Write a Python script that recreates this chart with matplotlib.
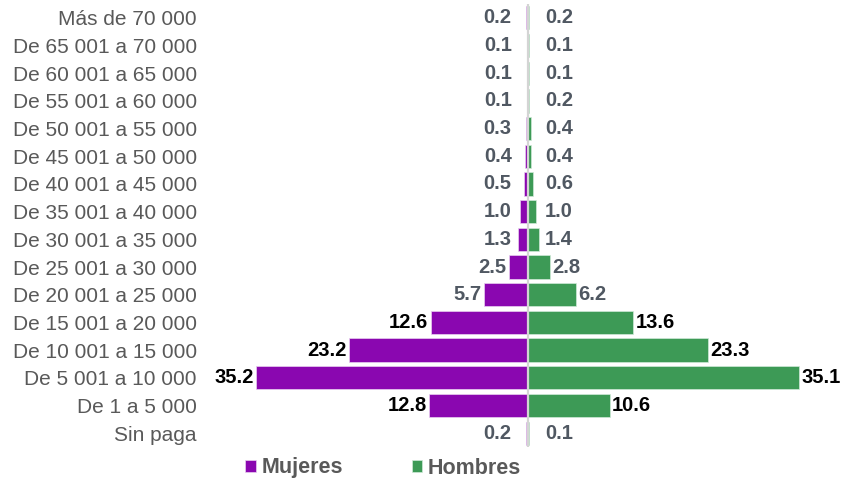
import matplotlib
matplotlib.use("Agg")
import matplotlib.pyplot as plt
import numpy as np

# Income brackets, listed top to bottom as in the chart
categories = [
    "Más de 70 000", "De 65 001 a 70 000", "De 60 001 a 65 000",
    "De 55 001 a 60 000", "De 50 001 a 55 000", "De 45 001 a 50 000",
    "De 40 001 a 45 000", "De 35 001 a 40 000", "De 30 001 a 35 000",
    "De 25 001 a 30 000", "De 20 001 a 25 000", "De 15 001 a 20 000",
    "De 10 001 a 15 000", "De 5 001 a 10 000", "De 1 a 5 000", "Sin paga",
]
mujeres = [0.2, 0.1, 0.1, 0.1, 0.3, 0.4, 0.5, 1.0, 1.3, 2.5, 5.7, 12.6, 23.2, 35.2, 12.8, 0.2]
hombres = [0.2, 0.1, 0.1, 0.2, 0.4, 0.4, 0.6, 1.0, 1.4, 2.8, 6.2, 13.6, 23.3, 35.1, 10.6, 0.1]

purple = "#8a07b0"
green = "#3d9a56"
gray_txt = "#505862"
cat_txt = "#595959"

plt.rcParams['font.family'] = ['Liberation Sans', 'DejaVu Sans']

fig = plt.figure(figsize=(8.48, 4.8), dpi=100)
ax = fig.add_axes([215 / 848, 33 / 480, 625 / 848, 443 / 480])

n = len(categories)
y = np.arange(n)[::-1]  # first category on top

bm = ax.barh(y, -np.array(mujeres), height=0.84, color=purple,
             edgecolor="#e8d0f0", linewidth=0.5, label="Mujeres")
bh = ax.barh(y, hombres, height=0.84, color=green,
             edgecolor="#d0ead8", linewidth=0.5, label="Hombres")

ax.axvline(0, color="#d4d4d4", lw=1.6, zorder=3)

# value labels
for yi, vm, vh in zip(y, mujeres, hombres):
    cm = "black" if vm >= 10 else gray_txt
    ch = "black" if vh >= 10 else gray_txt
    ax.text(-max(vm + 0.3, 2.1), yi, f"{vm:.1f}", ha="right", va="center",
            fontsize=14.5, fontweight="bold", color=cm, clip_on=False)
    ax.text(max(vh + 0.3, 2.2), yi, f"{vh:.1f}", ha="left", va="center",
            fontsize=14.5, fontweight="bold", color=ch, clip_on=False)

ax.set_xlim(-40.5, 40.4)
ax.set_ylim(-0.5, n - 0.5)
ax.set_yticks(y)
ax.set_yticklabels(categories, fontsize=15, color=cat_txt)
ax.tick_params(axis="y", length=0, pad=13)
ax.set_xticks([])
for s in ax.spines.values():
    s.set_visible(False)

fig.legend(handles=[bm, bh], loc="center", bbox_to_anchor=(383 / 848, 1 - 468 / 480),
           ncol=2, frameon=False, handlelength=0.5, handleheight=0.5,
           handletextpad=0.25, columnspacing=3.2,
           prop={"size": 15.5, "weight": "bold"}, labelcolor=cat_txt)

fig.savefig("out.png", dpi=100)
